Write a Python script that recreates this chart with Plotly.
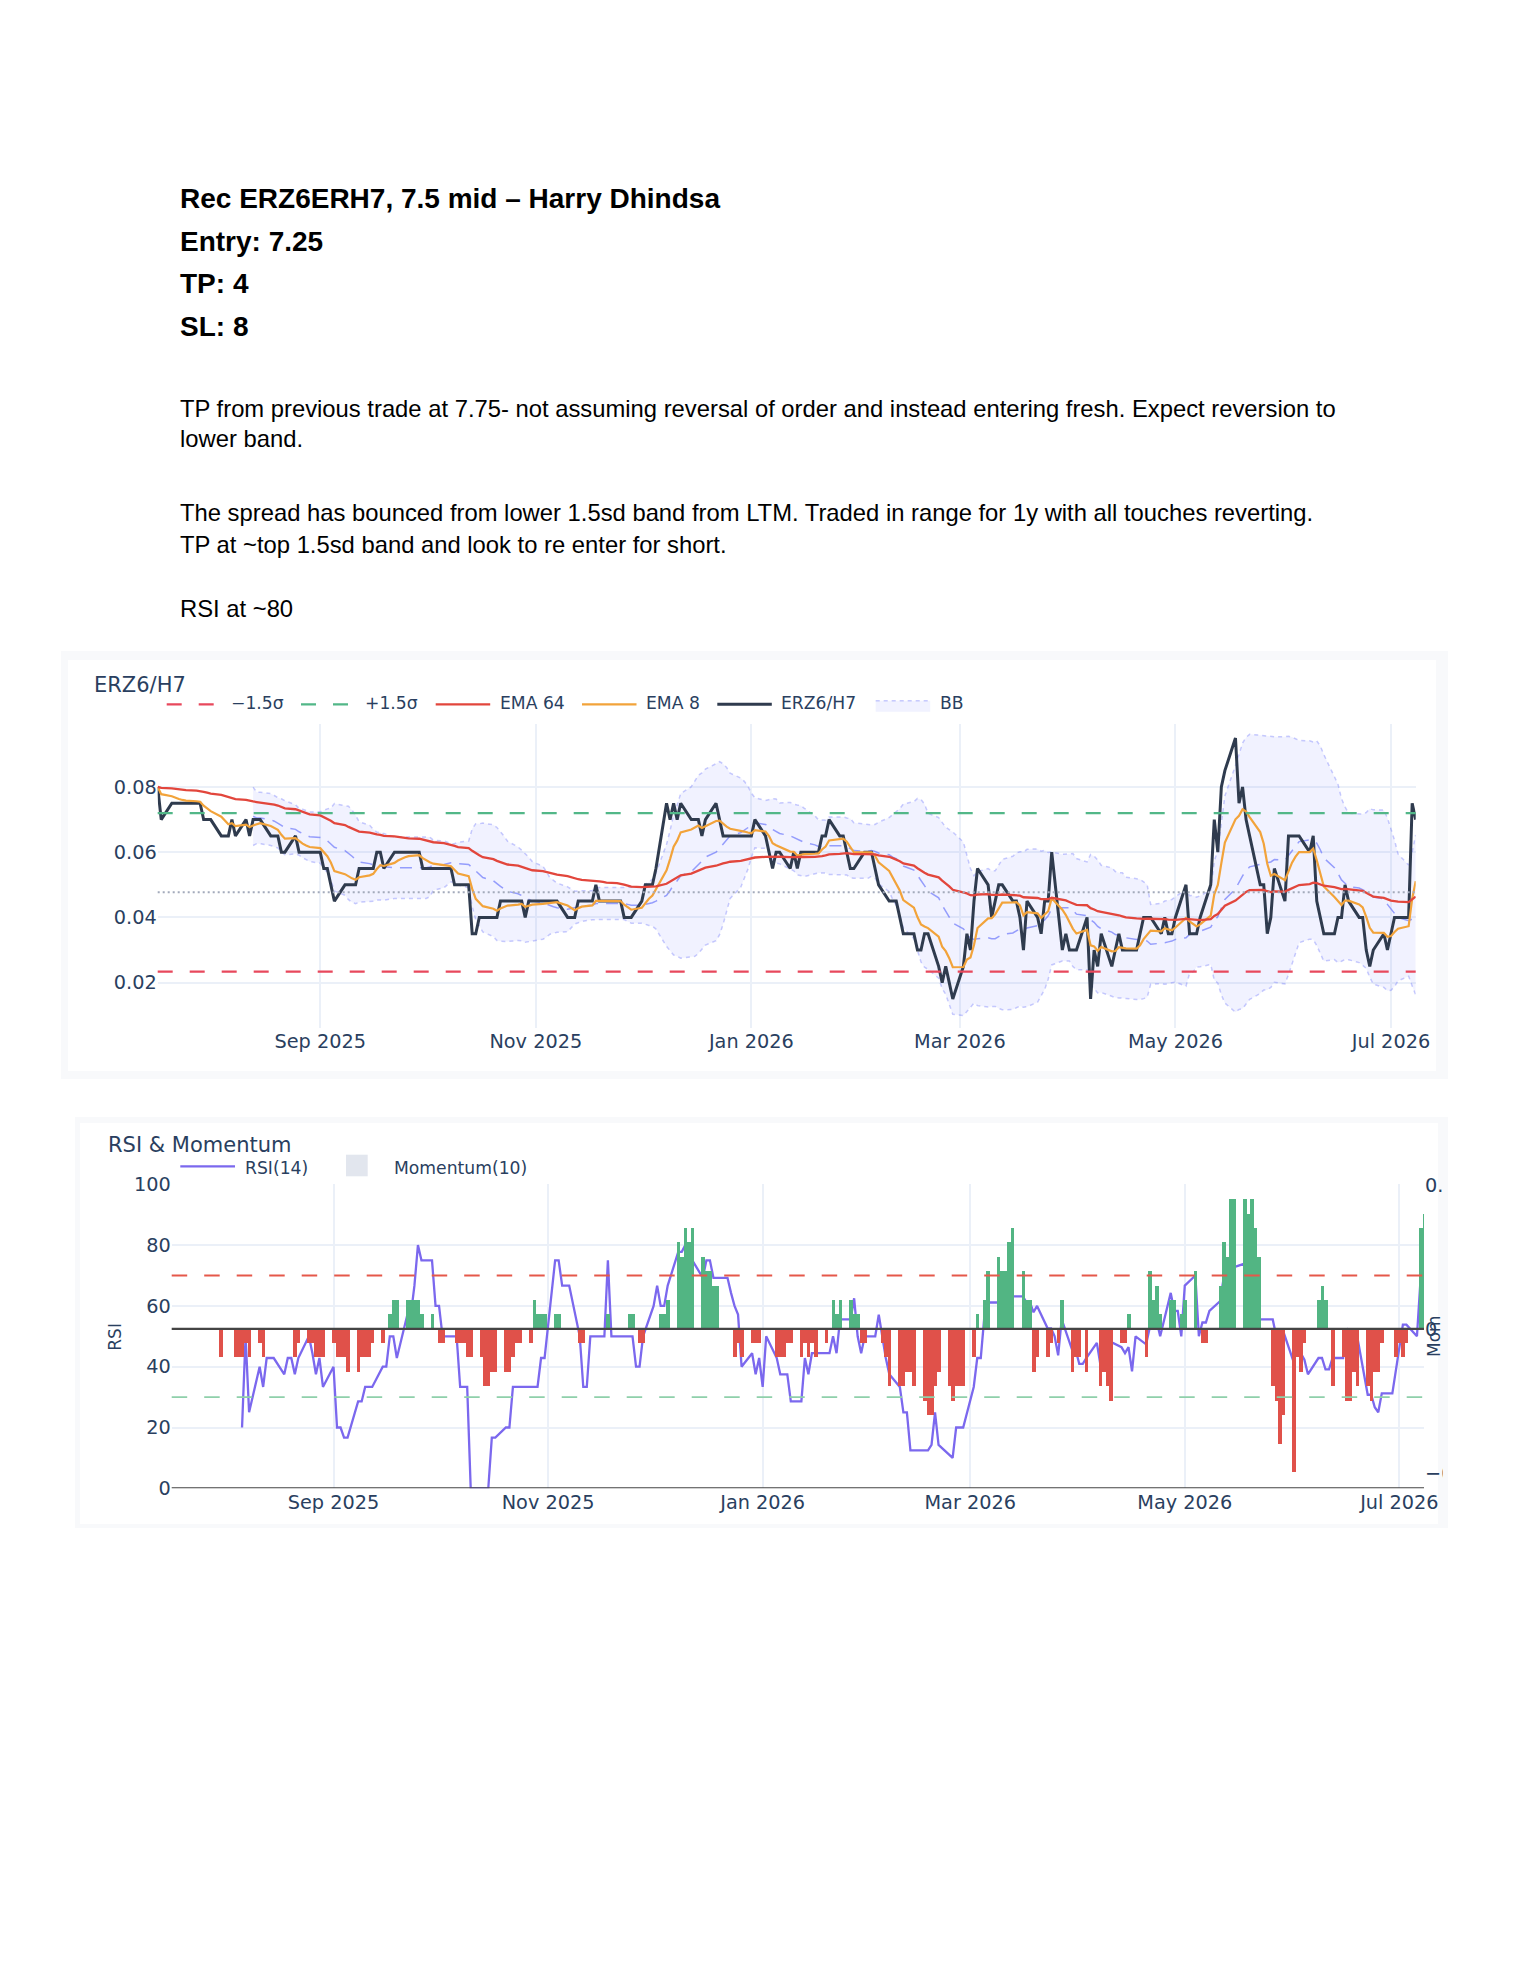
import numpy as np
import pandas as pd
import plotly.graph_objects as go

W, H = 1530, 1980

# ---------------- data ----------------
dates = pd.bdate_range("2025-07-17", "2026-07-08")

price = [
    0.080, 0.070,
    0.075, 0.075, 0.075, 0.075, 0.075,
    0.075, 0.075, 0.070, 0.070, 0.070,
    0.065, 0.065, 0.065, 0.070, 0.065,
    0.070, 0.065, 0.070, 0.070, 0.070,
    0.065, 0.065, 0.065, 0.060, 0.060,
    0.065, 0.060, 0.060, 0.060, 0.060,
    0.060, 0.055, 0.055, 0.050, 0.045,
    0.050, 0.050, 0.050, 0.050, 0.055,
    0.055, 0.055, 0.060, 0.060, 0.055,
    0.060, 0.060, 0.060, 0.060, 0.060,
    0.060, 0.055, 0.055, 0.055, 0.055,
    0.055, 0.055, 0.055, 0.050, 0.050,
    0.050, 0.035, 0.035, 0.040, 0.040,
    0.040, 0.040, 0.045, 0.045, 0.045,
    0.045, 0.045, 0.040, 0.045, 0.045,
    0.045, 0.045, 0.045, 0.045, 0.045,
    0.040, 0.040, 0.040, 0.045, 0.045,
    0.045, 0.050, 0.045, 0.045, 0.045,
    0.045, 0.045, 0.040, 0.040, 0.040,
    0.045, 0.050, 0.050, 0.050, 0.055,
    0.075, 0.070, 0.075, 0.070, 0.075,
    0.070, 0.070, 0.070, 0.065, 0.070,
    0.075, 0.070, 0.065, 0.065, 0.065,
    0.065, 0.065, 0.065, 0.065, 0.070,
    0.065, 0.060, 0.055, 0.060, 0.060,
    0.055, 0.060, 0.055, 0.060, 0.060,
    0.060, 0.060, 0.065, 0.065, 0.070,
    0.065, 0.065, 0.060, 0.055, 0.055,
    0.060, 0.060, 0.060, 0.055, 0.050,
    0.045, 0.045, 0.045, 0.040, 0.035,
    0.035, 0.030, 0.030, 0.035, 0.035,
    0.025, 0.020, 0.025, 0.020, 0.015,
    0.025, 0.035, 0.030, 0.045, 0.055,
    0.050, 0.040, 0.045, 0.050, 0.050,
    0.045, 0.045, 0.040, 0.030, 0.045,
    0.040, 0.035, 0.045, 0.045, 0.060,
    0.030, 0.035, 0.030, 0.030, 0.030,
    0.040, 0.015, 0.030, 0.025, 0.035,
    0.025, 0.030, 0.035, 0.030, 0.030,
    0.030, 0.035, 0.040, 0.040, 0.040,
    0.035, 0.040, 0.035, 0.035, 0.040,
    0.050, 0.035, 0.035, 0.035, 0.040,
    0.050, 0.070, 0.060, 0.080, 0.085,
    0.095, 0.075, 0.080, 0.070, 0.065,
    0.050, 0.050, 0.035, 0.040, 0.055,
    0.045, 0.065, 0.065, 0.065, 0.065,
    0.060, 0.065, 0.045, 0.040, 0.035,
    0.035, 0.040, 0.040, 0.050, 0.045,
    0.040, 0.040, 0.030, 0.025, 0.030,
    0.035, 0.030, 0.035, 0.040, 0.040,
    0.040, 0.075, 0.070,
]

band_upper = 0.0720   # +1.5 sigma level
band_lower = 0.0234   # -1.5 sigma level
band_mean = 0.0477    # long-term mean

header_lines = [
    "Rec ERZ6ERH7, 7.5 mid – Harry Dhindsa",
    "Entry: 7.25",
    "TP: 4",
    "SL: 8",
]
body_lines = [
    "TP from previous trade at 7.75- not assuming reversal of order and instead entering fresh. Expect reversion to",
    "lower band.",
    "The spread has bounced from lower 1.5sd band from LTM. Traded in range for 1y with all touches reverting.",
    "TP at ~top 1.5sd band and look to re enter for short.",
    "RSI at ~80",
]

# ---------------- indicators (standard definitions) ----------------
s = pd.Series(price, index=dates)
ema64 = s.ewm(span=64, adjust=False).mean()
ema8 = s.ewm(span=8, adjust=False).mean()
bb_mid = s.rolling(20).mean()
bb_sd = s.rolling(20).std()
bb_up = bb_mid + 2 * bb_sd
bb_lo = bb_mid - 2 * bb_sd
d = s.diff()
gain = d.clip(lower=0).rolling(14).mean()
loss = (-d.clip(upper=0)).rolling(14).mean()
rsi = 100 * gain / (gain + loss)
mom = s.diff(10)

# ---------------- styling ----------------
def fx(x):
    return x / W

def fy(y):
    return 1 - y / H

TXT_FONT = "Liberation Sans, Arial, sans-serif"
CH_FONT = "DejaVu Sans, Verdana, sans-serif"
INK = "#2a3f5f"
GRID = "#EBF0F8"
CARD = "#f8f9fb"

C_PRICE = "#2f3b4e"
C_EMA8 = "#f2a33a"
C_EMA64 = "#e2463c"
C_UP = "#52b788"
C_DN = "#e8485c"
C_MEAN = "#a3aabb"
BB_FILL = "rgba(99,110,250,0.09)"
BB_EDGE = "rgba(99,110,250,0.35)"
BB_MID = "rgba(99,110,250,0.65)"
C_RSI = "#7b68ee"
C_GREEN = "#52b583"
C_RED = "#e0514a"
SIG_DASH = "15px,17px"
LEG_FS = 17.2
TICK_FS = 19.3

fig = go.Figure()

v = bb_up.notna()
fig.add_trace(go.Scatter(x=dates[v], y=bb_up[v], mode="lines", xaxis="x", yaxis="y",
                         line=dict(color=BB_EDGE, width=1.5, dash="4px,4px"),
                         hoverinfo="skip", showlegend=False))
fig.add_trace(go.Scatter(x=dates[v], y=bb_lo[v], mode="lines", xaxis="x", yaxis="y",
                         fill="tonexty", fillcolor=BB_FILL, name="BB",
                         line=dict(color=BB_EDGE, width=1.5, dash="4px,4px"),
                         showlegend=False))
fig.add_trace(go.Scatter(x=dates[v], y=bb_mid[v], mode="lines", xaxis="x", yaxis="y",
                         line=dict(color=BB_MID, width=1.5, dash="12px,8px"),
                         hoverinfo="skip", showlegend=False))
fig.add_trace(go.Scatter(x=dates, y=s, mode="lines", name="ERZ6/H7", xaxis="x", yaxis="y",
                         line=dict(color=C_PRICE, width=3), showlegend=False))
fig.add_trace(go.Scatter(x=dates, y=ema8, mode="lines", name="EMA 8", xaxis="x", yaxis="y",
                         line=dict(color=C_EMA8, width=2.2), showlegend=False))
fig.add_trace(go.Scatter(x=dates, y=ema64, mode="lines", name="EMA 64", xaxis="x", yaxis="y",
                         line=dict(color=C_EMA64, width=2.3), showlegend=False))

vr = rsi.notna()
fig.add_trace(go.Scatter(x=dates[vr], y=rsi[vr], mode="lines", name="RSI(14)", xaxis="x2", yaxis="y2",
                         line=dict(color=C_RSI, width=2.3), showlegend=False))
vm = mom.notna()
mom_v = mom[vm]
bar_cols = [C_GREEN if m > 0 else C_RED for m in mom_v]
fig.add_trace(go.Bar(x=dates[vm], y=mom_v, name="Momentum(10)", xaxis="x2", yaxis="y3",
                     marker=dict(color=bar_cols, line=dict(width=0)),
                     width=86400000, showlegend=False))

# ---------------- shapes ----------------
shapes = []
# card frames
shapes.append(dict(type="rect", xref="paper", yref="paper", layer="below",
                   x0=fx(61), x1=fx(1448), y0=fy(1079), y1=fy(651),
                   fillcolor=CARD, line=dict(width=0)))
shapes.append(dict(type="rect", xref="paper", yref="paper", layer="below",
                   x0=fx(68), x1=fx(1436), y0=fy(1071), y1=fy(660),
                   fillcolor="white", line=dict(width=0)))
shapes.append(dict(type="rect", xref="paper", yref="paper", layer="below",
                   x0=fx(75), x1=fx(1448), y0=fy(1528), y1=fy(1117),
                   fillcolor=CARD, line=dict(width=0)))
shapes.append(dict(type="rect", xref="paper", yref="paper", layer="below",
                   x0=fx(80), x1=fx(1438), y0=fy(1524), y1=fy(1123),
                   fillcolor="white", line=dict(width=0)))
# level lines on the price chart
shapes.append(dict(type="line", xref="x domain", yref="y", x0=0, x1=1, y0=band_mean, y1=band_mean,
                   line=dict(color=C_MEAN, width=2, dash="2px,3px")))
shapes.append(dict(type="line", xref="x domain", yref="y", x0=0, x1=1, y0=band_upper, y1=band_upper,
                   line=dict(color=C_UP, width=2.2, dash=SIG_DASH)))
shapes.append(dict(type="line", xref="x domain", yref="y", x0=0, x1=1, y0=band_lower, y1=band_lower,
                   line=dict(color=C_DN, width=2.2, dash=SIG_DASH)))
# RSI chart lines
shapes.append(dict(type="line", xref="x2 domain", yref="y2", x0=0, x1=1, y0=70, y1=70,
                   line=dict(color="#e5584a", width=1.8, dash="15.5px,17px")))
shapes.append(dict(type="line", xref="x2 domain", yref="y2", x0=0, x1=1, y0=30, y1=30,
                   line=dict(color="#8fd0aa", width=1.8, dash="15.5px,17px")))
shapes.append(dict(type="line", xref="x2 domain", yref="y2", x0=0, x1=1, y0=0, y1=0,
                   line=dict(color="#444", width=2.3)))
shapes.append(dict(type="line", xref="x2 domain", yref="y3", x0=0, x1=1, y0=0, y1=0,
                   line=dict(color="#444", width=2.3)))
# crop of the right-hand momentum tick labels (as in the reference image)
shapes.append(dict(type="rect", xref="paper", yref="paper", layer="above",
                   x0=fx(1443), x1=fx(1448), y0=fy(1528), y1=fy(1117),
                   fillcolor=CARD, line=dict(width=0)))
shapes.append(dict(type="rect", xref="paper", yref="paper", layer="above",
                   x0=fx(1448), x1=1, y0=fy(1535), y1=fy(1110),
                   fillcolor="white", line=dict(width=0)))

annotations = []
# ---------------- manual legends ----------------
LEG_Y = 703
top_items = [
    ("−1.5σ", 166.7, dict(color=C_DN, width=2.2, dash=SIG_DASH), "line"),
    ("+1.5σ", 301.0, dict(color=C_UP, width=2.2, dash=SIG_DASH), "line"),
    ("EMA 64", 435.7, dict(color=C_EMA64, width=2.3), "line"),
    ("EMA 8", 582.0, dict(color=C_EMA8, width=2.2), "line"),
    ("ERZ6/H7", 717.3, dict(color=C_PRICE, width=3), "line"),
    ("BB", 875.7, None, "fill"),
]
for name, x0, ln, kind in top_items:
    if kind == "line":
        shapes.append(dict(type="line", xref="paper", yref="paper",
                           x0=fx(x0), x1=fx(x0 + 54.5), y0=fy(704.3), y1=fy(704.3), line=ln))
    else:
        shapes.append(dict(type="rect", xref="paper", yref="paper",
                           x0=fx(x0), x1=fx(x0 + 54.5), y0=fy(711.7), y1=fy(700.7),
                           fillcolor=BB_FILL, line=dict(width=0)))
        shapes.append(dict(type="line", xref="paper", yref="paper",
                           x0=fx(x0), x1=fx(x0 + 54.5), y0=fy(700.7), y1=fy(700.7),
                           line=dict(color=BB_EDGE, width=1.5, dash="4px,4px")))
    annotations.append(dict(xref="paper", yref="paper", x=fx(x0 + 62), y=fy(LEG_Y),
                            text=name, showarrow=False, xanchor="left", yanchor="middle",
                            font=dict(family=CH_FONT, size=LEG_FS, color=INK)))

LEG2_Y = 1166.3
shapes.append(dict(type="line", xref="paper", yref="paper", x0=fx(180.3), x1=fx(235),
                   y0=fy(LEG2_Y), y1=fy(LEG2_Y), line=dict(color=C_RSI, width=2.3)))
annotations.append(dict(xref="paper", yref="paper", x=fx(243), y=fy(1167.8), text="RSI(14)",
                        showarrow=False, xanchor="left", yanchor="middle",
                        font=dict(family=CH_FONT, size=LEG_FS, color=INK)))
shapes.append(dict(type="rect", xref="paper", yref="paper", x0=fx(346), x1=fx(367.7),
                   y0=fy(1176.3), y1=fy(1154.7), fillcolor="#e2e6ee", line=dict(width=0)))
annotations.append(dict(xref="paper", yref="paper", x=fx(392), y=fy(1167.8), text="Momentum(10)",
                        showarrow=False, xanchor="left", yanchor="middle",
                        font=dict(family=CH_FONT, size=LEG_FS, color=INK)))

# chart titles and axis titles
annotations.append(dict(xref="paper", yref="paper", x=fx(92), y=fy(685), text="ERZ6/H7",
                        showarrow=False, xanchor="left", yanchor="middle",
                        font=dict(family=CH_FONT, size=21, color=INK)))
annotations.append(dict(xref="paper", yref="paper", x=fx(106), y=fy(1144.8), text="RSI & Momentum",
                        showarrow=False, xanchor="left", yanchor="middle",
                        font=dict(family=CH_FONT, size=21, color=INK)))
annotations.append(dict(xref="paper", yref="paper", x=fx(115), y=fy(1336.7), text="RSI",
                        textangle=-90, showarrow=False, xanchor="center", yanchor="middle",
                        font=dict(family=CH_FONT, size=17, color=INK)))
annotations.append(dict(xref="paper", yref="paper", x=fx(1434), y=fy(1336), text="Mom",
                        textangle=-90, showarrow=False, xanchor="center", yanchor="middle",
                        font=dict(family=CH_FONT, size=17, color=INK)))

# document text
for txt, y in zip(header_lines, [198.5, 241.5, 283.5, 326.5]):
    annotations.append(dict(xref="paper", yref="paper", x=fx(178), y=fy(y), text="<b>" + txt + "</b>",
                            showarrow=False, xanchor="left", yanchor="middle",
                            font=dict(family=TXT_FONT, size=28, color="#000000")))
for txt, y in zip(body_lines, [408.0, 438.2, 512.7, 544.2, 608.7]):
    annotations.append(dict(xref="paper", yref="paper", x=fx(178), y=fy(y), text=txt,
                            showarrow=False, xanchor="left", yanchor="middle",
                            font=dict(family=TXT_FONT, size=23.8, color="#000000")))

x_range = [dates[0], dates[-1]]
axis_font = dict(family=CH_FONT, size=TICK_FS, color=INK)

common_x = dict(type="date", range=x_range, dtick="M2", tick0="2025-09-01", tickformat="%b %Y",
                tickfont=axis_font, showgrid=True, gridcolor=GRID, gridwidth=1.5,
                zeroline=False, showline=False, ticks="", automargin=False)

fig.update_layout(
    template="plotly_white",
    width=W, height=H,
    autosize=False,
    margin=dict(l=0, r=0, t=0, b=0, pad=0, autoexpand=False),
    paper_bgcolor="white", plot_bgcolor="white",
    showlegend=False,
    font=dict(family=CH_FONT, color=INK),
    bargap=0,
    xaxis=dict(domain=[fx(157.7), fx(1415.7)], anchor="y", **common_x),
    yaxis=dict(domain=[fy(1028), fy(724)], anchor="x", range=[0.0061, 0.0993],
               dtick=0.02, tick0=0, tickfont=axis_font, showgrid=True, gridcolor=GRID,
               gridwidth=1.5, zeroline=False, ticks="", automargin=False),
    xaxis2=dict(domain=[fx(171.7), fx(1424)], anchor="y2", **common_x),
    yaxis2=dict(domain=[fy(1488.3), fy(1184.3)], anchor="x2", range=[0, 100], dtick=20,
                tickfont=axis_font, showgrid=True, gridcolor=GRID, gridwidth=1.5,
                zeroline=False, ticks="", automargin=False),
    yaxis3=dict(overlaying="y2", anchor="x2", side="right", range=[-0.0554, 0.0503],
                tickvals=[-0.05, 0, 0.05], tickfont=axis_font, showgrid=False,
                zeroline=False, ticks="", automargin=False),
    shapes=shapes,
    annotations=annotations,
)

fig.write_html("out.html", config={"displayModeBar": False},
               post_script="document.body.style.margin='0';document.body.style.overflow='hidden';")
